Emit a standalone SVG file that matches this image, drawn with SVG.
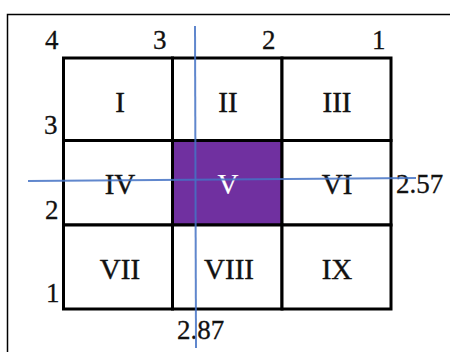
<svg xmlns="http://www.w3.org/2000/svg" width="450" height="352" viewBox="0 0 450 352">
<style>
.cell{fill:#fff;stroke:#000;stroke-width:3}
.t{font-family:"Liberation Serif","Times New Roman",serif;font-size:29px;fill:#111;stroke:#111;stroke-width:0.4;text-anchor:middle}
.n{font-family:"Liberation Serif","Times New Roman",serif;font-size:27px;fill:#111;stroke:#111;stroke-width:0.3}
.blue{stroke:#4472C4;stroke-width:2;fill:none;opacity:0.85}
</style>
<rect width="450" height="352" fill="#fff"/>
<path d="M7.5 352 V14.5 H450" stroke="#000" stroke-width="1.5" fill="none"/>
<g id="c1"><rect class="cell" x="63.5" y="58" width="109" height="82.5"/><text class="t" x="120" y="112">I</text></g>
<g id="c2"><rect class="cell" x="172.5" y="58" width="109.5" height="82.5"/><text class="t" x="228" y="112">II</text></g>
<g id="c3"><rect class="cell" x="282" y="58" width="109" height="82.5"/><text class="t" x="337" y="112">III</text></g>
<g id="c4"><rect class="cell" x="63.5" y="140.5" width="109" height="84.5"/><text class="t" x="120" y="194">IV</text></g>
<g id="c5"><rect class="cell" x="172.5" y="140.5" width="109.5" height="84.5" style="fill:#7030A0"/><text class="t" x="228" y="194" style="fill:#fff;stroke:#fff;stroke-width:0.2">V</text></g>
<g id="c6"><rect class="cell" x="282" y="140.5" width="109" height="84.5"/><text class="t" x="337" y="194">VI</text></g>
<g id="c7"><rect class="cell" x="63.5" y="225" width="109" height="84"/><text class="t" x="120" y="279">VII</text></g>
<g id="c8"><rect class="cell" x="172.5" y="225" width="109.5" height="84"/><text class="t" x="229" y="279">VIII</text></g>
<g id="c9"><rect class="cell" x="282" y="225" width="109" height="84"/><text class="t" x="337" y="279">IX</text></g>
<g id="labels">
<text class="n" x="45" y="49">4</text>
<text class="n" x="153" y="49">3</text>
<text class="n" x="262" y="49">2</text>
<text class="n" x="372" y="49">1</text>
<text class="n" x="44" y="134">3</text>
<text class="n" x="45" y="219">2</text>
<text class="n" x="46" y="302">1</text>
<text class="n" x="396" y="193">2.57</text>
<text class="n" x="177" y="339">2.87</text>
</g>
<g id="connectors">
<line class="blue" x1="195" y1="26" x2="196" y2="348"/>
<line class="blue" x1="28" y1="181" x2="416" y2="178"/>
</g>
</svg>
